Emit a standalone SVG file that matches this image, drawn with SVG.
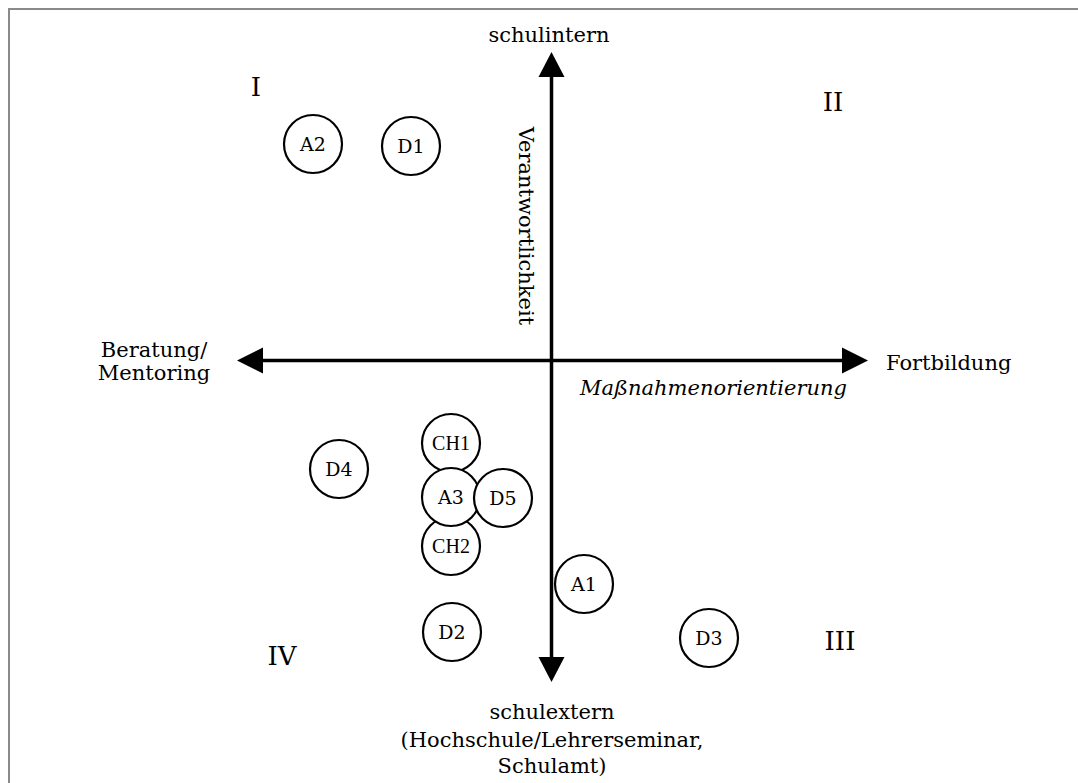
<svg xmlns="http://www.w3.org/2000/svg" width="1078" height="783" viewBox="0 0 1078 783">
<style>
.t{font-family:"DejaVu Serif","Liberation Serif",serif;font-size:21px;fill:#000}
.q{font-family:"DejaVu Serif","Liberation Serif",serif;font-size:26px;fill:#000}
.n{fill:#fff;stroke:#000;stroke-width:2.2}
.l{font-family:"DejaVu Serif","Liberation Serif",serif;font-size:19px;fill:#000;text-anchor:middle}
.c{font-family:"Liberation Serif","DejaVu Serif",serif;font-size:20px;fill:#000;text-anchor:middle}
.ax{stroke:#000;stroke-width:3.5;fill:none}
</style>
<rect x="0" y="0" width="1078" height="783" fill="#fff"/>
<path d="M9 783 V9 H1078" fill="none" stroke="#8a8a8a" stroke-width="2"/>
<g id="connectors">
<line class="ax" x1="551.5" y1="75" x2="551.5" y2="659"/>
<line class="ax" x1="261" y1="360.5" x2="845" y2="360.5"/>
<polygon points="551.5,52 538.5,77 564.5,77"/>
<polygon points="551.5,682 538.5,657 564.5,657"/>
<polygon points="237,360.5 263,347.5 263,373.5"/>
<polygon points="868,360.5 842,347.5 842,373.5"/>
</g>
<g id="labels">
<text class="t" x="549" y="42" text-anchor="middle">schulintern</text>
<text class="t" x="154" y="357" text-anchor="middle">Beratung/</text>
<text class="t" x="154" y="380" text-anchor="middle">Mentoring</text>
<text class="t" x="886" y="370">Fortbildung</text>
<text class="t" x="580" y="395" font-style="italic" font-size="21.8">Maßnahmenorientierung</text>
<text class="t" x="552" y="719" text-anchor="middle">schulextern</text>
<text class="t" x="552" y="747" text-anchor="middle">(Hochschule/Lehrerseminar,</text>
<text class="t" x="552" y="773" text-anchor="middle">Schulamt)</text>
<text class="t" transform="translate(519 226) rotate(90)" text-anchor="middle" font-size="22">Verantwortlichkeit</text>
<text class="q" x="256" y="96" text-anchor="middle">I</text>
<text class="q" x="833" y="111" text-anchor="middle">II</text>
<text class="q" x="840" y="650" text-anchor="middle">III</text>
<text class="q" x="282" y="665" text-anchor="middle">IV</text>
</g>
<g id="A2"><circle class="n" cx="313" cy="144" r="29"/><text class="l" x="313" y="151">A2</text></g>
<g id="D1"><circle class="n" cx="411" cy="146" r="29"/><text class="l" x="411" y="153">D1</text></g>
<g id="D4"><circle class="n" cx="339" cy="469" r="29"/><text class="l" x="339" y="476">D4</text></g>
<g id="CH1"><circle class="n" cx="451" cy="443" r="29"/><text class="c" x="451" y="450">CH1</text></g>
<g id="CH2"><circle class="n" cx="451" cy="546" r="29"/><text class="c" x="451" y="553">CH2</text></g>
<g id="A3"><circle class="n" cx="451" cy="497" r="29"/><text class="l" x="451" y="504">A3</text></g>
<g id="D5"><circle class="n" cx="503" cy="498" r="29"/><text class="l" x="503" y="505">D5</text></g>
<g id="A1"><circle class="n" cx="584" cy="584" r="29"/><text class="l" x="584" y="591">A1</text></g>
<g id="D2"><circle class="n" cx="452" cy="632" r="29"/><text class="l" x="452" y="639">D2</text></g>
<g id="D3"><circle class="n" cx="709" cy="638" r="29"/><text class="l" x="709" y="645">D3</text></g>
</svg>
